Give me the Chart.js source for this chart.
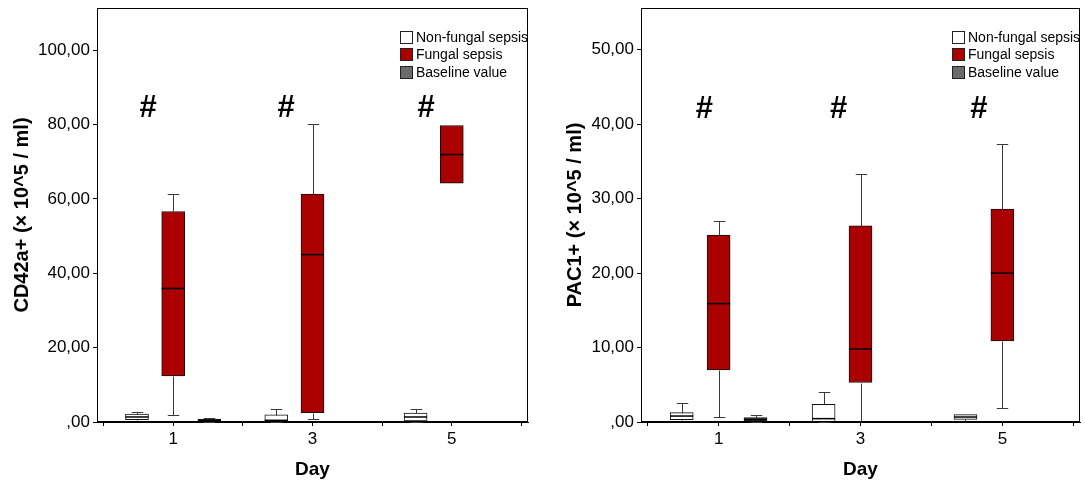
<!DOCTYPE html>
<html>
<head>
<meta charset="utf-8">
<script src="https://cdn.jsdelivr.net/npm/chart.js@4.4.1/dist/chart.umd.min.js"></script>
<style>
  body { margin: 0; background: #fff; }
  canvas { position: absolute; top: 0; }
  #cd42 { left: 0; }
  #pac1 { left: 540px; }
</style>
</head>
<body>
<canvas id="cd42" width="540" height="481"></canvas>
<canvas id="pac1" width="545" height="481"></canvas>
<script>
const days = [1, 3, 5];
const groups = ['Non-fungal sepsis', 'Fungal sepsis', 'Baseline value'];
const fills = ['#ffffff', '#aa0000', '#6b6b6b'];

// box summaries per day: [min, q1, median, q3, max], null = no box
const cd42NonFungal = [[0.4, 0.65, 1.35, 2.15, 2.8], [0.0, 0.27, 0.45, 1.9, 3.4], [0.1, 0.27, 1.35, 2.4, 3.5]];
const cd42Fungal = [[1.8, 12.4, 35.9, 56.6, 61.3], [0.7, 2.5, 45.0, 61.3, 80.1], [64.2, 64.2, 71.9, 79.7, 79.7]];
const cd42Baseline = [[0.1, 0.15, 0.45, 0.8, 1.0], null, null];

const pac1NonFungal = [[0.13, 0.32, 0.8, 1.26, 2.6], [0.0, 0.05, 0.45, 2.38, 4.0], [0.13, 0.36, 0.67, 1.0, 1.0]];
const pac1Fungal = [[0.67, 7.0, 15.9, 25.1, 27.0], [0.19, 5.3, 9.8, 26.35, 33.3], [1.84, 10.9, 20.0, 28.6, 37.4]];
const pac1Baseline = [[0.05, 0.13, 0.35, 0.59, 0.9], null, null];

// significance marks (#) : [day position, value]
const cd42Marks = [[0.64, 84.2], [2.62, 84.2], [4.63, 84.2]];
const pac1Marks = [[0.8, 42.0], [2.69, 42.0], [4.67, 42.0]];

const font = "'Liberation Sans', Arial, sans-serif";
const groupShift = [-0.52, 0, 0.52];

// whiskers + median on top of the floating bars
const boxPlugin = {
    id: 'boxes',
    afterDatasetsDraw(chart) {
        const ctx = chart.ctx;
        const y = chart.scales.y;
        chart.data.datasets.forEach((ds, i) => {
            chart.getDatasetMeta(i).data.forEach((bar, j) => {
                const s = ds.stats[j];
                const cx = Math.round(bar.x) + 0.5;
                const half = bar.width / 2;
                const cap = bar.width / 4;
                const py = v => Math.round(y.getPixelForValue(v)) + 0.5;
                ctx.save();
                ctx.strokeStyle = '#3a3a3a';
                ctx.lineWidth = 1;
                ctx.beginPath();
                if (s[4] > s[3]) {
                    ctx.moveTo(cx, py(s[3])); ctx.lineTo(cx, py(s[4]));
                    ctx.moveTo(cx - cap, py(s[4])); ctx.lineTo(cx + cap, py(s[4]));
                }
                if (s[0] < s[1]) {
                    ctx.moveTo(cx, py(s[1])); ctx.lineTo(cx, py(s[0]));
                    ctx.moveTo(cx - cap, py(s[0])); ctx.lineTo(cx + cap, py(s[0]));
                }
                ctx.stroke();
                ctx.strokeStyle = '#000';
                ctx.lineWidth = 1.5;
                ctx.beginPath();
                ctx.moveTo(bar.x - half, y.getPixelForValue(s[2]));
                ctx.lineTo(bar.x + half, y.getPixelForValue(s[2]));
                ctx.stroke();
                ctx.restore();
            });
        });
    },
    afterDraw(chart) {
        const ctx = chart.ctx;
        const a = chart.chartArea;
        const o = chart.options.plugins.boxes;
        ctx.save();
        // frame
        ctx.strokeStyle = '#000';
        ctx.lineWidth = 1;
        ctx.strokeRect(Math.round(a.left) + 0.5, Math.round(a.top) + 0.5,
            Math.round(a.right - a.left) - 1, Math.round(a.bottom - a.top) - 1);
        // # marks
        ctx.fillStyle = '#000';
        ctx.font = 'bold 31px ' + font;
        ctx.textAlign = 'center';
        ctx.textBaseline = 'middle';
        o.marks.forEach(m => {
            ctx.fillText('#', chart.scales.x.getPixelForValue(m[0]), chart.scales.y.getPixelForValue(m[1]));
        });
        // legend
        ctx.font = '14px ' + font;
        ctx.textAlign = 'left';
        chart.data.datasets.forEach((ds, i) => {
            const top = Math.round(a.top + 23 + i * 17.4);
            const lx = Math.round(a.right) - 128;
            ctx.fillStyle = ds.backgroundColor;
            ctx.fillRect(lx, top, 12, 12);
            ctx.strokeStyle = '#222';
            ctx.strokeRect(lx + 0.5, top + 0.5, 12, 12);
            ctx.fillStyle = '#000';
            ctx.fillText(ds.label, lx + 16, top + 7);
        });
        ctx.restore();
    }
};

function makeChart(id, series, marks, yTitle, yMax, yStep, yWidth, titlePad, rightPad) {
    const datasets = series.map((rows, g) => ({
        label: groups[g],
        data: days.map((d, k) => rows[k] ? { x: d + groupShift[g], y: [rows[k][1], rows[k][3]] } : null).filter(p => p),
        stats: rows.filter(r => r),
        backgroundColor: fills[g],
        borderColor: '#111',
        borderWidth: 1,
        borderSkipped: false,
        grouped: false,
        barThickness: 23
    }));

    return new Chart(document.getElementById(id), {
        type: 'bar',
        data: { datasets: datasets },
        options: {
            responsive: false,
            animation: false,
            layout: { padding: { top: 8, right: rightPad, left: 0, bottom: 0 } },
            plugins: {
                legend: { display: false },
                tooltip: { enabled: false },
                boxes: { marks: marks }
            },
            scales: {
                x: {
                    type: 'linear',
                    offset: false,
                    min: -0.094,
                    max: 6.094,
                    afterFit: s => { s.height = 59; s.paddingLeft = 0; s.paddingRight = 0; },
                    border: { color: '#000', width: 1 },
                    grid: { drawOnChartArea: false, color: '#000', tickLength: 4, offset: false },
                    ticks: {
                        stepSize: 1,
                        includeBounds: false,
                        autoSkip: false,
                        maxRotation: 0,
                        padding: 3,
                        color: '#000',
                        font: { family: font, size: 17 },
                        callback: v => days.includes(v) ? String(v) : ''
                    },
                    title: {
                        display: true,
                        text: 'Day',
                        color: '#000',
                        padding: 0,
                        font: { family: font, size: 19, weight: 'bold' }
                    }
                },
                y: {
                    min: 0,
                    max: yMax,
                    afterFit: s => { s.width = yWidth; s.paddingTop = 0; s.paddingBottom = 0; },
                    border: { color: '#000', width: 1 },
                    grid: { drawOnChartArea: false, color: '#000', tickLength: 4 },
                    ticks: {
                        stepSize: yStep,
                        includeBounds: false,
                        padding: 3,
                        color: '#000',
                        font: { family: font, size: 17 },
                        callback: v => v === 0 ? ',00' : v.toFixed(2).replace('.', ',')
                    },
                    title: {
                        display: true,
                        text: yTitle,
                        color: '#000',
                        padding: { top: titlePad, bottom: 0 },
                        font: { family: font, size: 20, weight: 'bold' }
                    }
                }
            }
        },
        plugins: [boxPlugin]
    });
}

makeChart('cd42', [cd42NonFungal, cd42Fungal, cd42Baseline], cd42Marks,
    'CD42a+ (× 10^5 / ml)', 111.3, 20, 97, 10, 12);
makeChart('pac1', [pac1NonFungal, pac1Fungal, pac1Baseline], pac1Marks,
    'PAC1+ (× 10^5 / ml)', 55.6, 10, 101, 23, 5);
</script>
</body>
</html>
